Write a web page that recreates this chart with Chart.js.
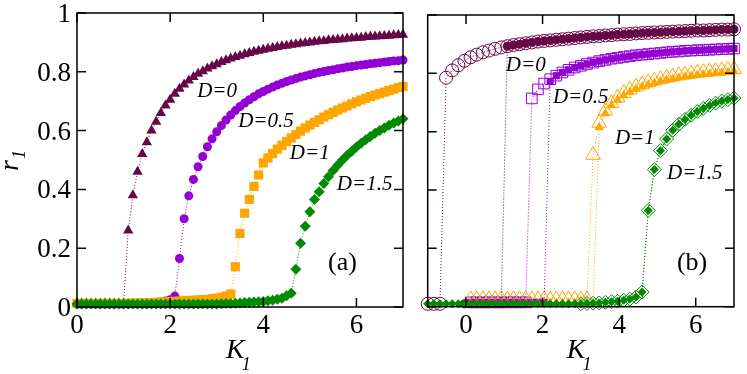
<!DOCTYPE html>
<html>
<head>
<meta charset="utf-8">
<script src="https://cdn.jsdelivr.net/npm/chart.js@4/dist/chart.umd.min.js"></script>
<style>
  html, body { margin:0; padding:0; background:#fff; }
  #wrap { position:relative; width:747px; height:374px; overflow:hidden; }
  canvas { position:absolute; top:0; }
  #chartA { left:0; }
  #chartB { left:415px; }
</style>
</head>
<body>
<div id="wrap">
  <canvas id="chartA" width="415" height="374"></canvas>
  <canvas id="chartB" width="332" height="374"></canvas>
</div>
<script>
// ---------- DATA : panel (a), forward sweep ----------
const K_A = [0,0.1,0.2,0.3,0.4,0.5,0.6,0.7,0.8,0.9,1,1.1,1.2,1.3,1.4,1.5,1.6,1.7,1.8,1.9,2,2.1,2.2,2.3,2.4,2.5,2.6,2.7,2.8,2.9,3,3.1,3.2,3.3,3.4,3.5,3.6,3.7,3.8,3.9,4,4.1,4.2,4.3,4.4,4.5,4.6,4.7,4.8,4.9,5,5.1,5.2,5.3,5.4,5.5,5.6,5.7,5.8,5.9,6,6.1,6.2,6.3,6.4,6.5,6.6,6.7,6.8,6.9,7];
const A_D0 = [0.012,0.012,0.012,0.012,0.012,0.012,0.012,0.012,0.012,0.012,0.012,
  0.26,0.38,0.46,0.52,0.56,0.6,0.63,0.66,0.685,0.705,0.725,0.742,0.757,0.77,0.782,0.793,0.802,0.811,0.819,0.826,
  0.833,0.839,0.845,0.85,0.855,0.86,0.864,0.868,0.872,0.875,0.878,0.881,0.884,0.887,0.889,0.892,0.894,0.896,0.898,0.9,
  0.902,0.904,0.905,0.907,0.908,0.91,0.911,0.913,0.914,0.915,0.916,0.918,0.919,0.92,0.921,0.922,0.923,0.924,0.925,0.926];
const A_D05 = [0.01,0.01,0.01,0.01,0.01,0.01,0.01,0.01,0.01,0.01,0.01,0.01,0.01,0.01,0.01,0.01,
  0.012,0.014,0.017,0.02,0.025,0.037,
  0.165,0.3,0.378,0.434,0.477,0.512,0.545,0.572,0.596,0.617,0.636,0.653,0.668,0.682,0.694,0.705,0.715,0.725,0.733,0.741,
  0.748,0.755,0.761,0.767,0.772,0.777,0.782,0.786,0.79,0.794,0.798,0.801,0.804,0.807,0.81,0.813,0.816,0.818,0.821,0.823,
  0.825,0.827,0.829,0.831,0.833,0.835,0.837,0.838,0.84];
const A_D1 = [0.012,0.012,0.012,0.012,0.012,0.012,0.012,0.012,0.012,0.012,0.012,
  0.013,0.013,0.014,0.014,0.015,0.015,0.016,0.017,0.017,0.018,
  0.019,0.02,0.021,0.022,0.023,0.024,0.025,0.026,0.028,0.03,
  0.033,0.037,0.044,
  0.137,0.25,0.319,0.366,0.41,0.449,
  0.49,0.507,0.522,0.537,0.55,0.563,0.575,0.587,0.598,0.609,0.619,0.628,0.637,0.646,0.654,0.662,0.67,0.677,0.684,0.691,
  0.698,0.704,0.71,0.716,0.721,0.726,0.731,0.736,0.741,0.746,0.75];
const A_D15 = [0.01,0.01,0.01,0.01,0.01,0.01,0.01,0.01,0.01,0.01,0.01,0.01,0.01,0.01,0.01,0.01,0.01,0.01,0.01,0.01,0.01,0.01,0.01,0.01,0.01,0.01,0.01,0.01,0.01,0.01,0.01,
  0.011,0.012,0.012,0.013,0.014,0.015,0.016,0.017,0.018,0.019,
  0.021,0.023,0.026,0.03,0.038,0.047,
  0.128,0.217,0.275,0.324,0.366,0.392,0.42,0.443,0.464,0.483,0.5,0.516,0.53,0.544,0.557,0.569,0.58,0.591,0.6,0.609,
  0.618,0.626,0.633,0.64];

// ---------- DATA : panel (b), open = backward, filled = forward ----------
const K_B = [-1,-0.84,-0.68,-0.52,-0.36,-0.2,-0.04,0.12,0.28,0.44,0.6,0.76,0.92,1.08,1.24,1.4,1.56,1.72,1.88,2.04,2.2,2.36,2.52,2.68,2.84,3,3.16,3.32,3.48,3.64,3.8,3.96,4.12,4.28,4.44,4.6,4.76,4.92,5.08,5.24,5.4,5.56,5.72,5.88,6.04,6.2,6.36,6.52,6.68,6.84,7];
const B_D0_OPEN = [0.01,0.01,0.01,0.785,0.81,0.828,0.843,0.855,0.864,0.872,0.878,0.884,0.889,0.893,0.897,0.9,0.903,0.906,0.909,0.911,
  0.913,0.915,0.917,0.919,0.921,0.923,0.925,0.927,0.928,0.93,0.931,0.933,0.934,0.935,0.937,0.938,0.939,0.94,0.941,0.942,
  0.943,0.944,0.945,0.946,0.947,0.947,0.948,0.949,0.95,0.95,0.951];
const B_D0_FILL = [null,null,null,null,null,null,0.01,0.01,0.01,0.01,0.01,0.01,0.01,0.893,0.897,0.9,0.903,0.906,0.909,0.911,
  0.913,0.915,0.917,0.919,0.921,0.923,0.925,0.927,0.928,0.93,0.931,0.933,0.934,0.935,0.937,0.938,0.939,0.94,0.941,0.942,
  0.943,0.944,0.945,0.946,0.947,0.947,0.948,0.949,0.95,0.95,0.951];
const B_D05_OPEN = [null,null,null,null,null,null,null,0.015,0.015,0.015,0.015,0.015,0.015,0.015,0.015,0.015,0.015,
  0.714,0.745,0.765,0.78,0.792,0.803,0.812,0.82,0.826,0.832,0.837,0.842,0.846,0.85,0.853,0.856,0.859,0.862,0.864,0.866,
  0.868,0.87,0.872,0.874,0.875,0.877,0.878,0.879,0.88,0.881,0.882,0.883,0.884,0.885];
const B_D05_FILL = [null,null,null,null,null,null,null,0.015,0.015,0.015,0.015,0.015,0.015,0.015,0.015,0.015,0.015,0.015,0.015,0.015,
  0.772,0.792,0.803,0.812,0.82,0.826,0.832,0.837,0.842,0.846,0.85,0.853,0.856,0.859,0.862,0.864,0.866,
  0.868,0.87,0.872,0.874,0.875,0.877,0.878,0.879,0.88,0.881,0.882,0.883,0.884,0.885];
const B_D1_OPEN = [null,null,null,null,null,null,null,0.025,0.025,0.025,0.025,0.025,0.025,0.025,0.025,0.025,0.025,
  0.025,0.025,0.025,0.025,0.025,0.025,0.025,0.025,0.025,0.025,
  0.52,0.63,0.672,0.698,0.717,0.732,0.744,0.754,0.762,0.769,0.775,0.78,0.785,0.789,0.793,0.796,0.799,0.802,0.804,0.806,
  0.808,0.81,0.812,0.814];
const B_D1_FILL = [null,null,null,null,null,null,null,0.012,0.012,0.012,0.012,0.012,0.012,0.012,0.012,0.012,0.012,
  0.012,0.012,0.012,0.012,0.012,0.012,0.012,0.012,0.012,0.012,0.012,
  0.615,0.662,0.69,0.709,0.724,0.736,0.746,0.754,0.761,0.767,0.772,0.777,0.781,0.785,0.788,0.791,0.794,0.796,0.798,0.8,
  0.802,0.804,0.806];
const B_D15_OPEN = [null,null,null,null,null,null,null,null,null,null,null,null,null,null,null,null,null,null,null,null,null,null,null,null,null,
  0.01,0.011,0.012,0.013,0.015,0.017,0.019,0.022,0.026,0.033,
  0.05,0.33,0.47,0.535,0.575,0.605,0.626,0.642,0.656,0.669,0.68,0.69,0.698,0.705,0.71,0.715];
const B_D15_FILL = [0.01,0.01,0.01,0.01,0.01,0.01,0.01,0.01,0.01,0.01,0.01,0.01,0.01,0.01,0.01,0.01,0.01,0.01,0.01,0.01,0.01,0.01,0.01,0.01,0.01,
  0.01,0.011,0.012,0.013,0.015,0.017,0.019,0.022,0.026,0.033,
  0.05,0.33,0.47,0.535,0.575,0.605,0.626,0.642,0.656,0.669,0.68,0.69,0.698,0.705,0.71,0.715];

// ---------- TICKS ----------
const X_TICKS = [0,2,4,6];
const X_TICK_LABELS = ['0','2','4','6'];
const Y_TICKS = [0,0.2,0.4,0.6,0.8,1];
const Y_TICK_LABELS = ['0','0.2','0.4','0.6','0.8','1'];

// ---------- STYLE ----------
const MAROON = '#670748', VIOLET = '#9400d3', ORANGE = '#ffa500', GREEN = '#008b00';
const SERIF = "'Liberation Serif', 'Times New Roman', serif";
const TICK = 9;

function pts(ks, rs) {
  return ks.map((k,i)=>({ x:k, y:rs[i] })).filter(p=>p.y!=null);
}

function series(ks, rs, color, style, radius, open) {
  return {
    data: pts(ks, rs),
    showLine: true,
    borderColor: color,
    borderWidth: 1,
    borderDash: [1,2],
    pointStyle: style,
    pointRadius: radius,
    pointHoverRadius: radius,
    pointBackgroundColor: open ? 'rgba(0,0,0,0)' : color,
    pointBorderColor: color,
    pointBorderWidth: open ? 1 : 0,
    clip: false
  };
}

// frame, inward ticks, tick labels, curve labels and axis titles
const annot = {
  id: 'annot',
  afterDraw(chart, args, o) {
    const { ctx, chartArea:a, scales:{ x, y } } = chart;
    ctx.save();
    ctx.strokeStyle = '#000';
    ctx.lineWidth = 1.5;
    ctx.strokeRect(a.left, a.top, a.right-a.left, a.bottom-a.top);
    ctx.beginPath();
    X_TICKS.forEach(v=>{
      const p = x.getPixelForValue(v);
      ctx.moveTo(p, a.bottom); ctx.lineTo(p, a.bottom-TICK);
      ctx.moveTo(p, a.top); ctx.lineTo(p, a.top+TICK);
    });
    Y_TICKS.forEach(v=>{
      const p = y.getPixelForValue(v);
      ctx.moveTo(a.left, p); ctx.lineTo(a.left+TICK, p);
      ctx.moveTo(a.right, p); ctx.lineTo(a.right-TICK, p);
    });
    ctx.stroke();

    ctx.fillStyle = '#000';
    ctx.textBaseline = 'alphabetic';

    // tick labels
    ctx.font = '27px ' + SERIF;
    ctx.textAlign = 'center';
    X_TICKS.forEach((v,i)=> ctx.fillText(X_TICK_LABELS[i], x.getPixelForValue(v), 333));
    if (o.yLabels) {
      ctx.textAlign = 'right';
      Y_TICKS.forEach((v,i)=> ctx.fillText(Y_TICK_LABELS[i], a.left - 6, y.getPixelForValue(v) + 9));
    }

    ctx.textAlign = 'left';
    ctx.font = 'italic 21px ' + SERIF;
    o.labels.forEach(l=> ctx.fillText(l.text, x.getPixelForValue(l.k), y.getPixelForValue(l.r)));
    ctx.font = '26px ' + SERIF;
    ctx.fillText(o.tag.text, x.getPixelForValue(o.tag.k), y.getPixelForValue(o.tag.r));

    // x title K_1
    const kx = (a.left+a.right)/2 - 14;
    ctx.font = 'italic 28px ' + SERIF;
    ctx.fillText('K', kx, 358);
    const kw = ctx.measureText('K').width;
    ctx.font = 'italic 18px ' + SERIF;
    ctx.fillText('1', kx + kw - 3, 370);

    // y title r_1
    if (o.yLabels) {
      ctx.translate(18, 171);
      ctx.rotate(-Math.PI/2);
      ctx.font = 'italic 28px ' + SERIF;
      ctx.fillText('r', 0, 0);
      const rw = ctx.measureText('r').width;
      ctx.font = 'italic 18px ' + SERIF;
      ctx.fillText('1', rw + 1, 7);
    }
    ctx.restore();
  }
};

function baseOptions(xmin, padding, annotOpts) {
  return {
    responsive: false, animation: false, devicePixelRatio: 1,
    events: [],
    layout: { padding: padding },
    plugins: { legend: { display:false }, tooltip: { enabled:false }, annot: annotOpts },
    scales: {
      x: { type:'linear', min:xmin, max:7, display:false },
      y: { type:'linear', min:0, max:1, display:false }
    }
  };
}

// ---------- CHART (a) ----------
new Chart(document.getElementById('chartA'), {
  type: 'scatter',
  data: { datasets: [
    series(K_A, A_D15, GREEN, 'rectRot', 5.5, false),
    series(K_A, A_D1, ORANGE, 'rect', 6.5, false),
    series(K_A, A_D05, VIOLET, 'circle', 4.5, false),
    series(K_A, A_D0, MAROON, 'triangle', 6, false)
  ]},
  options: baseOptions(0, { top: 13, right: 12, bottom: 67, left: 77 }, {
    yLabels: true,
    labels: [
      { text:'D=0', k:2.58, r:0.714 },
      { text:'D=0.5', k:3.46, r:0.612 },
      { text:'D=1', k:4.57, r:0.503 },
      { text:'D=1.5', k:5.58, r:0.398 }
    ],
    tag: { text:'(a)', k:5.39, r:0.126 }
  }),
  plugins: [annot]
});

// ---------- CHART (b) ----------
new Chart(document.getElementById('chartB'), {
  type: 'scatter',
  data: { datasets: [
    series(K_B, B_D15_FILL, GREEN, 'rectRot', 4.5, false),
    series(K_B, B_D1_FILL, ORANGE, 'triangle', 5.5, false),
    series(K_B, B_D05_FILL, VIOLET, 'rect', 5, false),
    series(K_B, B_D0_FILL, MAROON, 'circle', 4.5, false),
    series(K_B, B_D15_OPEN, GREEN, 'rectRot', 7, true),
    series(K_B, B_D1_OPEN, ORANGE, 'triangle', 8.5, true),
    series(K_B, B_D05_OPEN, VIOLET, 'rect', 7.5, true),
    series(K_B, B_D0_OPEN, MAROON, 'circle', 6.5, true)
  ]},
  options: baseOptions(-1, { top: 15, right: 13, bottom: 67.3, left: 12.7 }, {
    yLabels: false,
    labels: [
      { text:'D=0', k:1.04, r:0.808 },
      { text:'D=0.5', k:2.27, r:0.70 },
      { text:'D=1', k:3.89, r:0.558 },
      { text:'D=1.5', k:5.25, r:0.438 }
    ],
    tag: { text:'(b)', k:5.51, r:0.126 }
  }),
  plugins: [annot]
});
</script>
</body>
</html>
